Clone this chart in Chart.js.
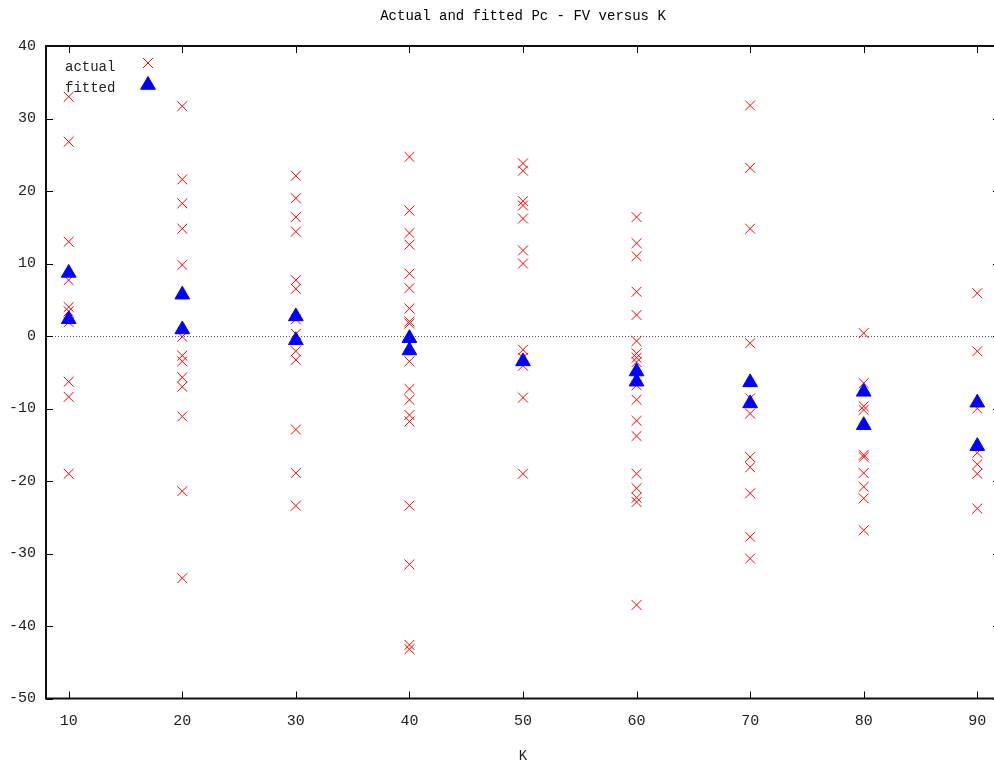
<!DOCTYPE html>
<html>
<head>
<meta charset="utf-8">
<script src="https://cdn.jsdelivr.net/npm/chart.js@4/dist/chart.umd.min.js"></script>
<style>
html, body { margin:0; padding:0; overflow:hidden; background:#fff; width:994px; height:762px; }
#wrap { width:994px; height:762px; overflow:hidden; position:relative; }
canvas { display:block; position:absolute; left:0; top:0; }
</style>
</head>
<body>
<div id="wrap"><canvas id="c" width="1001" height="762" style="width:1001px;height:762px"></canvas></div>
<script>
// ---- data ----
const kCategories = [10, 20, 30, 40, 50, 60, 70, 80, 90];
const actual10 = [33.0, 26.8, 13.0, 7.7, 4.0, 3.4, 1.9, -6.3, -8.4, -19.0];
const actual20 = [31.7, 21.6, 18.3, 14.8, 9.8, -0.1, -2.7, -3.5, -5.7, -7.0, -11.1, -21.4, -33.4];
const actual30 = [22.1, 19.0, 16.4, 14.4, 7.7, 6.5, 2.3, 0.3, -2.1, -3.3, -12.9, -18.9, -23.4];
const actual40 = [24.7, 17.3, 14.2, 12.6, 8.6, 6.6, 3.8, 2.0, 1.7, -3.5, -7.3, -8.8, -10.9, -11.8, -23.4, -31.5, -42.6, -43.2];
const actual50 = [23.8, 22.8, 18.6, 18.0, 16.2, 11.8, 10.0, -1.9, -3.0, -4.1, -8.5, -19.0];
const actual60 = [16.4, 12.8, 11.0, 6.1, 2.9, -0.7, -2.4, -3.0, -3.6, -6.8, -8.8, -11.7, -13.8, -19.0, -21.0, -22.3, -22.9, -37.1];
const actual70 = [31.8, 23.2, 14.8, -1.0, -8.6, -10.7, -16.7, -18.1, -21.7, -27.7, -30.7];
const actual80 = [0.4, -6.5, -9.7, -10.2, -16.4, -16.7, -18.9, -20.8, -22.4, -26.8];
const actual90 = [5.9, -2.1, -10.0, -16.1, -17.7, -19.0, -23.8];
const actualByK = [actual10, actual20, actual30, actual40, actual50, actual60, actual70, actual80, actual90];

const fitted10 = [8.7, 2.3];
const fitted20 = [5.7, 0.9];
const fitted30 = [2.7, -0.6];
const fitted40 = [-0.3, -2.0];
const fitted50 = [-3.5];
const fitted60 = [-4.9, -6.3];
const fitted70 = [-6.4, -9.3];
const fitted80 = [-7.7, -12.3];
const fitted90 = [-9.2, -15.2];
const fittedByK = [fitted10, fitted20, fitted30, fitted40, fitted50, fitted60, fitted70, fitted80, fitted90];

const xTickValues = [10, 20, 30, 40, 50, 60, 70, 80, 90];
const yTickValues = [40, 30, 20, 10, 0, -10, -20, -30, -40, -50];
const titleText = 'Actual and fitted Pc - FV versus K';
const xTitle = 'K';
const legendLabels = ['actual', 'fitted'];

// ---- build ----
function toPoints(groups) {
  const pts = [];
  groups.forEach((vals, i) => vals.forEach(v => pts.push({x: kCategories[i], y: v})));
  return pts;
}

const FONT = "'Liberation Mono', 'DejaVu Sans Mono', monospace";
Chart.defaults.font.family = FONT;
Chart.defaults.color = '#000';

const RED = '#ff0000';
const BLUE = '#0000ff';
const actualStyle = {pointStyle: 'crossRot', radius: 7, borderWidth: 1, rotation: 0};
const fittedStyle = {pointStyle: 'triangle', radius: 8.5, borderWidth: 1, rotation: 0};

// plot frame: right edge just past the window, as in the reference
const fixArea = {
  id: 'fixArea',
  afterLayout(chart) {
    const x = chart.scales.x;
    const target = chart.width - 1;
    x.right = target;
    x.width = target - x.left;
    x.configure();
    chart.chartArea.right = target;
    chart.chartArea.width = target - chart.chartArea.left;
  }
};

const decor = {
  id: 'decor',
  beforeDatasetsDraw(chart) {
    const {ctx, chartArea: a, scales: {y}} = chart;
    ctx.save();
    ctx.strokeStyle = '#555';
    ctx.lineWidth = 1;
    ctx.setLineDash([1, 2]);
    const y0 = Math.round(y.getPixelForValue(0)) + 0.5;
    ctx.beginPath(); ctx.moveTo(a.left, y0); ctx.lineTo(a.right, y0); ctx.stroke();
    ctx.restore();
  },
  afterDatasetsDraw(chart) {
    const {ctx, chartArea: a, scales: {x, y}} = chart;
    ctx.save();
    ctx.strokeStyle = '#000';
    ctx.lineWidth = 1;
    const tl = 7;
    xTickValues.forEach(v => {
      const px = Math.round(x.getPixelForValue(v)) + 0.5;
      ctx.beginPath();
      ctx.moveTo(px, a.bottom); ctx.lineTo(px, a.bottom - tl);
      ctx.moveTo(px, a.top); ctx.lineTo(px, a.top + tl);
      ctx.stroke();
    });
    yTickValues.forEach(v => {
      const py = Math.round(y.getPixelForValue(v)) + 0.5;
      ctx.beginPath();
      ctx.moveTo(a.left, py); ctx.lineTo(a.left + tl, py);
      ctx.moveTo(a.right, py); ctx.lineTo(a.right - tl, py);
      ctx.stroke();
    });
    ctx.lineWidth = 2;
    ctx.strokeStyle = '#111';
    ctx.strokeRect(a.left, a.top, a.right - a.left, a.bottom - a.top);
    // title
    ctx.fillStyle = '#000';
    ctx.font = '14px ' + FONT;
    ctx.textAlign = 'center';
    ctx.textBaseline = 'middle';
    ctx.fillText(titleText, (a.left + a.right) / 2, 16);
    // legend
    ctx.textAlign = 'left';
    ctx.fillStyle = '#222';
    ctx.fillText(legendLabels[0], 65, 67);
    ctx.fillText(legendLabels[1], 65, 88);
    ctx.lineWidth = 1;
    ctx.strokeStyle = RED; ctx.fillStyle = RED;
    Chart.helpers.drawPoint(ctx, actualStyle, 148, 63);
    ctx.strokeStyle = BLUE; ctx.fillStyle = BLUE;
    Chart.helpers.drawPoint(ctx, fittedStyle, 148, 85);
    ctx.restore();
  }
};

new Chart(document.getElementById('c'), {
  type: 'scatter',
  data: {
    datasets: [
      {
        label: legendLabels[0],
        data: toPoints(actualByK),
        order: 1,
        pointStyle: 'crossRot',
        pointRadius: actualStyle.radius,
        pointHoverRadius: actualStyle.radius,
        pointBorderWidth: 1,
        pointHoverBorderWidth: 1,
        borderColor: RED,
        backgroundColor: RED,
        pointBorderColor: RED,
        pointBackgroundColor: RED,
        pointHoverBorderColor: RED,
        pointHoverBackgroundColor: RED
      },
      {
        label: legendLabels[1],
        data: toPoints(fittedByK),
        order: 0,
        pointStyle: 'triangle',
        pointRadius: fittedStyle.radius,
        pointHoverRadius: fittedStyle.radius,
        pointBorderWidth: 1,
        borderColor: BLUE,
        backgroundColor: BLUE,
        pointBorderColor: BLUE,
        pointBackgroundColor: BLUE,
        pointHoverBorderColor: BLUE,
        pointHoverBackgroundColor: BLUE
      }
    ]
  },
  options: {
    responsive: false,
    animation: false,
    devicePixelRatio: 1,
    events: [],
    layout: {padding: {top: 46, right: 1, left: 0, bottom: 0}},
    plugins: {legend: {display: false}, title: {display: false}, tooltip: {enabled: false}},
    scales: {
      x: {
        type: 'linear', min: 8, max: 92,
        afterBuildTicks(s) { s.ticks = xTickValues.map(v => ({value: v})); },
        afterFit(s) { s.height = 63.5; s.paddingLeft = 0; s.paddingRight = 0; },
        grid: {display: false, drawTicks: false},
        border: {display: false},
        ticks: {padding: 14, font: {size: 15}, color: '#222'},
        title: {display: true, text: xTitle, font: {size: 14}, color: '#222', padding: {top: 0, bottom: -3}}
      },
      y: {
        type: 'linear', min: -50, max: 40,
        afterBuildTicks(s) { s.ticks = yTickValues.map(v => ({value: v})); },
        afterFit(s) { s.width = 46; s.paddingTop = 0; s.paddingBottom = 0; },
        grid: {display: false, drawTicks: false},
        border: {display: false},
        ticks: {padding: 10, font: {size: 15}, color: '#222'}
      }
    }
  },
  plugins: [fixArea, decor]
});
</script>
</body>
</html>
